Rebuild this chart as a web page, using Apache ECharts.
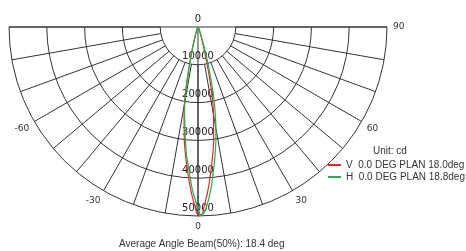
<!DOCTYPE html>
<html>
<head>
<meta charset="utf-8">
<script src="https://cdn.jsdelivr.net/npm/echarts@6/dist/echarts.min.js"></script>
<style>
  html, body { margin: 0; padding: 0; background: #fff; }
  #chart { width: 466px; height: 251px; }
</style>
</head>
<body>
<div id="chart"></div>
<script>
// angles in degrees, 0 = straight down
const angles = [-90, -60, -40, -30, -25, -20, -18,
  -16, -15, -14, -13, -12, -11, -10, -9, -8, -7, -6, -5, -4, -3, -2, -1,
  0, 1, 2, 3, 4, 5, 6, 7, 8, 9, 10, 11, 12, 13, 14, 15, 16, 17, 18,
  20, 25, 30, 40, 60, 90];

// intensity in cd
const vValues = [0, 0, 50, 200, 500, 1250, 2100,
  3500, 5000, 7000, 9400, 12900, 16900, 20600, 23600, 26300, 29800, 32800, 35600, 38600, 41700, 44700, 47300,
  49600, 49700, 47300, 44700, 41700, 38600, 35600, 32800, 29800, 26300, 23600, 20600, 16900, 12900, 9400, 7000, 5000, 3500, 2600,
  1500, 550, 220, 60, 0, 0];

const hValues = [0, 0, 50, 180, 420, 1100, 2000,
  3400, 4800, 6700, 8900, 12200, 15700, 19600, 22800, 25100, 28100, 31100, 34300, 36800, 39800, 43000, 45500,
  47900, 49700, 49000, 46900, 44500, 41700, 38600, 35800, 33000, 30200, 27300, 24100, 21000, 17600, 14000, 10600, 7800, 5700, 4100,
  2300, 650, 250, 70, 0, 0];

const seriesNames = ['V  0.0 DEG PLAN 18.0deg', 'H  0.0 DEG PLAN 18.8deg'];
const unitText = 'Unit: cd';
const beamText = 'Average Angle Beam(50%): 18.4 deg';

const CENTER = [198, 27];
const R = 189;
const gridColor = '#333';
const textColor = '#333';

const chart = echarts.init(document.getElementById('chart'));

const hidden = { axisLine: { show: false }, axisTick: { show: false }, axisLabel: { show: false }, splitLine: { show: false } };

const option = {
  animation: false,
  title: [
    { text: unitText, left: 373, top: 146, padding: 0,
      textStyle: { fontFamily: 'Liberation Sans', fontSize: 10, fontWeight: 'normal', color: textColor } },
    { text: beamText, left: 119, top: 239, padding: 0,
      textStyle: { fontFamily: 'Liberation Sans', fontSize: 10, fontWeight: 'normal', color: textColor } }
  ],
  legend: {
    data: seriesNames,
    orient: 'vertical',
    left: 328,
    top: 160,
    padding: 0,
    itemGap: 2,
    itemWidth: 13,
    itemHeight: 2,
    icon: 'rect',
    textStyle: { fontFamily: 'Liberation Sans', fontSize: 10, color: textColor }
  },
  polar: [
    { center: CENTER, radius: [R / 5, R] },   // grid rings 10000..50000
    { center: CENTER, radius: [0, R] },       // data
    { center: CENTER, radius: [0, R] }        // radius labels going down
  ],
  angleAxis: [
    {
      polarIndex: 0, type: 'value', min: -90, max: 90, interval: 10,
      startAngle: 180, endAngle: 360, clockwise: false,
      axisLine: { show: false }, axisTick: { show: false },
      axisLabel: {
        margin: 6, fontFamily: 'DejaVu Sans', fontSize: 9, color: textColor,
        formatter: v => (v % 30 === 0 && v > -90) ? String(v) : ''
      },
      splitLine: { show: true, lineStyle: { color: gridColor, width: 1 } }
    },
    {
      polarIndex: 1, type: 'value', min: -90, max: 90, interval: 90,
      startAngle: 180, endAngle: 360, clockwise: false,
      axisLine: { show: false }, axisTick: { show: false }, axisLabel: { show: false },
      splitLine: { show: true, lineStyle: { color: gridColor, width: 1 } }
    },
    Object.assign({ polarIndex: 2, type: 'value', startAngle: 270, min: 0, max: 360 }, hidden)
  ],
  radiusAxis: [
    {
      polarIndex: 0, type: 'value', min: 10000, max: 50000, interval: 10000,
      axisLine: { show: false }, axisTick: { show: false }, axisLabel: { show: false },
      splitLine: { show: true, lineStyle: { color: gridColor, width: 1 } }
    },
    Object.assign({ polarIndex: 1, type: 'value', min: 0, max: 50000 }, hidden),
    {
      polarIndex: 2, type: 'value', min: 0, max: 50000, interval: 10000,
      axisLine: { show: false }, axisTick: { show: false }, splitLine: { show: false },
      axisLabel: {
        margin: 0, align: 'center', verticalAlign: 'bottom', padding: [0, 0, 3, 0],
        fontFamily: 'DejaVu Sans', fontSize: 10, color: '#222',
        formatter: v => String(v)
      }
    }
  ],
  series: [
    {
      name: seriesNames[0], type: 'line', coordinateSystem: 'polar', polarIndex: 1,
      symbol: 'none', smooth: true, color: '#e8262b',
      lineStyle: { width: 1.2 },
      data: angles.map((a, i) => [vValues[i], a])
    },
    {
      name: seriesNames[1], type: 'line', coordinateSystem: 'polar', polarIndex: 1,
      symbol: 'none', smooth: true, color: '#22b14c',
      lineStyle: { width: 1.2 },
      data: angles.map((a, i) => [hValues[i], a])
    }
  ]
};

chart.setOption(option);
</script>
</body>
</html>
